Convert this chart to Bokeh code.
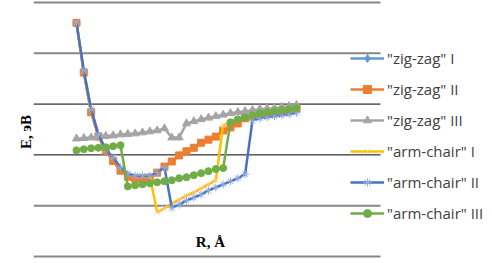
from bokeh.plotting import figure
from bokeh.models import Range1d, Label, Legend, FixedTicker
from bokeh.embed import file_html
from bokeh.resources import INLINE

# R values (31 points)
R = [round(1.0 + 0.1 * i, 2) for i in range(31)]

zigzag_I = [2.60, 1.62, 0.84, 0.36, 0.08, -0.12, -0.30, -0.42, -0.46, -0.46, -0.44,
            -0.35, -0.23, -0.13, -0.01, 0.07, 0.14, 0.24, 0.30, 0.36, 0.48, 0.54,
            0.62, 0.72, 0.76, 0.79, 0.81, 0.83, 0.85, 0.87, 0.91]
zigzag_II = [2.60, 1.62, 0.84, 0.36, 0.08, -0.12, -0.31, -0.43, -0.47, -0.47, -0.45,
             -0.35, -0.23, -0.13, -0.01, 0.07, 0.14, 0.24, 0.30, 0.36, 0.48, 0.54,
             0.62, 0.72, 0.76, 0.79, 0.81, 0.83, 0.85, 0.87, 0.91]
zigzag_III = [0.32, 0.33, 0.34, 0.36, 0.37, 0.38, 0.40, 0.41, 0.42, 0.44, 0.46,
              0.48, 0.52, 0.34, 0.34, 0.62, 0.66, 0.70, 0.73, 0.76, 0.79, 0.82,
              0.84, 0.86, 0.88, 0.90, 0.91, 0.92, 0.94, 0.96, 0.98]
armchair_I = [2.60, 1.66, 0.90, 0.40, 0.10, -0.05, -0.25, -0.37, -0.41, -0.41, -0.41,
              -1.13, -1.05, -0.96, -0.88, -0.80, -0.74, -0.66, -0.58, -0.50, 0.58,
              0.66, 0.70, 0.74, 0.78, 0.81, 0.84, 0.86, 0.88, 0.90, 0.93]
armchair_II = [2.60, 1.66, 0.90, 0.40, 0.10, -0.05, -0.25, -0.37, -0.41, -0.41, -0.41,
               -0.35, -0.25, -1.04, -0.98, -0.90, -0.84, -0.78, -0.70, -0.64, -0.58,
               -0.52, -0.46, -0.38, 0.68, 0.72, 0.74, 0.76, 0.78, 0.80, 0.83]
armchair_III = [0.09, 0.11, 0.13, 0.14, 0.15, 0.17, 0.19, -0.62, -0.60, -0.58, -0.56,
                -0.54, -0.52, -0.50, -0.46, -0.44, -0.40, -0.36, -0.32, -0.28, -0.26,
                0.64, 0.70, 0.74, 0.78, 0.82, 0.84, 0.86, 0.88, 0.90, 0.92]

labels = ['"zig-zag" I', '"zig-zag" II', '"zig-zag" III',
          '"arm-chair" I', '"arm-chair" II', '"arm-chair" III']

# gridline levels (value axis ticks, unlabeled in the original)
grid_levels = [3, 2, 1, 0, -1, -2]
grid_colors = ["#878787", "#878787", "black", "black", "#878787", "#878787"]
grid_widths = [2, 2, 1, 1, 2, 2]

X_START, X_END = 0.414, 6.673
GRID_END = 5.146
Y_START, Y_END = -2.138, 3.039

p = figure(width=492, height=263, output_backend="svg", toolbar_location=None,
           x_range=Range1d(X_START, X_END), y_range=Range1d(Y_START, Y_END),
           min_border_left=33, min_border_right=0, min_border_top=0,
           min_border_bottom=0, background_fill_color=None,
           border_fill_color="white", outline_line_color=None)

p.xgrid.visible = False
p.ygrid.visible = False
p.xaxis.visible = False
p.yaxis.ticker = FixedTicker(ticks=[])
p.yaxis.axis_label = "E, эВ"
p.yaxis.axis_label_text_font = "Liberation Serif"
p.yaxis.axis_label_text_font_style = "bold"
p.yaxis.axis_label_text_font_size = "15px"
p.yaxis.axis_label_text_color = "black"
p.yaxis.axis_label_standoff = 0
p.yaxis.major_tick_line_color = None
p.yaxis.minor_tick_line_color = None
p.yaxis.axis_line_color = None

p.segment(x0=X_START, x1=GRID_END, y0=grid_levels, y1=grid_levels,
          line_color=grid_colors, line_width=grid_widths)

series = [
    (zigzag_I, "#5B9BD5", "diamond", "#5B9BD5", 7),
    (zigzag_II, "#ED7D31", "square", "#ED7D31", 7),
    (zigzag_III, "#A5A5A5", "triangle", "#A5A5A5", 8),
    (armchair_I, "#FFC000", "x", "#F8CBAD", 7),
    (armchair_II, "#4472C4", "asterisk", "#8FAADC", 8),
    (armchair_III, "#70AD47", "circle", "#70AD47", 7),
]

items = []
for (vals, col, mk, mcol, ms), lab in zip(series, labels):
    r1 = p.line(R, vals, line_color=col, line_width=2.5)
    r2 = p.scatter(R, vals, marker=mk, size=ms, fill_color=mcol, line_color=mcol,
                   line_width=1)
    items.append((lab, [r1, r2]))

legend = Legend(items=items, location=(317, 40), glyph_width=34, glyph_height=20,
                label_height=20, spacing=11, padding=0, margin=0,
                label_standoff=3, label_text_font="Open Sans",
                label_text_font_size="15px", label_text_color="#404040",
                border_line_color=None, background_fill_color=None)
p.add_layout(legend)

p.add_layout(Label(x=2.827, y=-1.705, text="R, Å", text_align="center",
                   text_baseline="middle", text_font="Liberation Serif",
                   text_font_style="bold", text_font_size="15px",
                   text_color="black"))

open("out.html", "w").write(file_html(p, INLINE))
